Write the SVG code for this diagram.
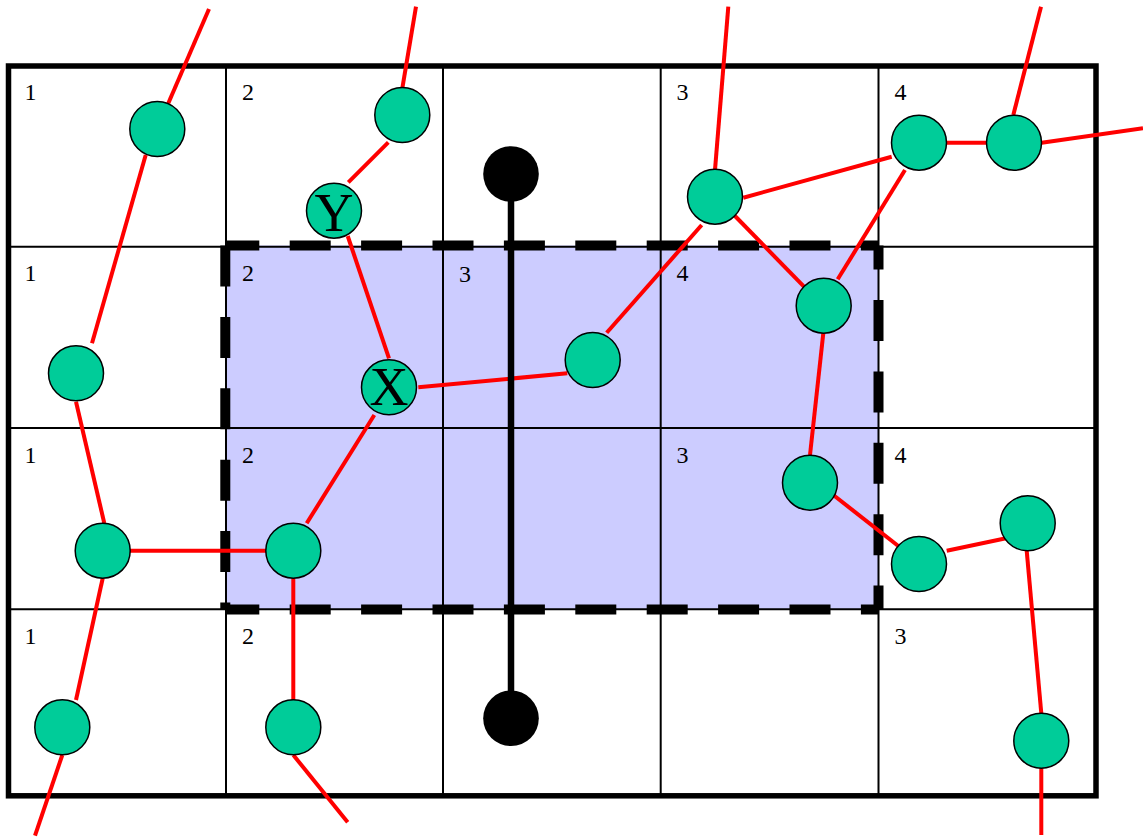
<svg xmlns="http://www.w3.org/2000/svg" width="1143" height="837" viewBox="0 0 1143 837">
<style>
.grid{stroke:#000;stroke-width:2;fill:none}
.dash{stroke:#000;stroke-width:10;stroke-dasharray:41 30.4;fill:none}
.edge{stroke:#FF0000;stroke-width:4;fill:none}
.node circle{fill:#00CC99;stroke:#000;stroke-width:1.5}
.num{font-family:"Liberation Serif","Times New Roman",serif;font-size:24px;fill:#000}
.big{font-family:"Liberation Serif","Times New Roman",serif;font-size:54px;fill:#000;text-anchor:middle}
</style>
<rect x="0" y="0" width="1143" height="837" fill="#FFFFFF"/>
<rect x="225.3" y="245.5" width="653.2" height="364" fill="#CCCCFF"/>
<g id="grid">
<line class="grid" x1="226" y1="66" x2="226" y2="796"/>
<line class="grid" x1="443" y1="66" x2="443" y2="796"/>
<line class="grid" x1="660.7" y1="66" x2="660.7" y2="796"/>
<line class="grid" x1="878.5" y1="66" x2="878.5" y2="796"/>
<line class="grid" x1="8.5" y1="246.7" x2="1096" y2="246.7"/>
<line class="grid" x1="8.5" y1="428" x2="1096" y2="428"/>
<line class="grid" x1="8.5" y1="609.3" x2="1096" y2="609.3"/>
<rect x="8.5" y="66" width="1087.5" height="729.8" fill="none" stroke="#000" stroke-width="5.5"/>
</g>
<g id="region">
<line class="dash" x1="225.3" y1="245.5" x2="878.5" y2="245.5" stroke-dashoffset="7"/>
<line class="dash" x1="225.3" y1="609.5" x2="878.5" y2="609.5" stroke-dashoffset="7"/>
<line class="dash" x1="225.3" y1="245.5" x2="225.3" y2="609.5"/>
<line class="dash" x1="878.5" y1="245.5" x2="878.5" y2="609.5" stroke-dashoffset="16.9"/>
</g>
<g id="labels">
<text class="num" x="24.5" y="100">1</text>
<text class="num" x="242" y="100">2</text>
<text class="num" x="676.5" y="100">3</text>
<text class="num" x="894.5" y="100">4</text>
<text class="num" x="24.5" y="280.5">1</text>
<text class="num" x="242" y="280.5">2</text>
<text class="num" x="459" y="281.5">3</text>
<text class="num" x="676.5" y="280.5">4</text>
<text class="num" x="24.5" y="463">1</text>
<text class="num" x="242" y="463">2</text>
<text class="num" x="676.5" y="463">3</text>
<text class="num" x="894.5" y="463">4</text>
<text class="num" x="24.5" y="644">1</text>
<text class="num" x="242" y="644">2</text>
<text class="num" x="894.5" y="644">3</text>
</g>
<g id="connectors">
<line class="edge" x1="209" y1="9" x2="168.3" y2="103.3"/>
<line class="edge" x1="145.7" y1="155" x2="92" y2="343.3"/>
<line class="edge" x1="76" y1="401.7" x2="104.3" y2="523.3"/>
<line class="edge" x1="130" y1="550.7" x2="266.7" y2="550.7"/>
<line class="edge" x1="102.7" y1="578.3" x2="76" y2="700"/>
<line class="edge" x1="62.3" y1="755" x2="35" y2="835.7"/>
<line class="edge" x1="293.3" y1="578.3" x2="293.3" y2="700"/>
<line class="edge" x1="293.3" y1="755" x2="347.7" y2="822.3"/>
<line class="edge" x1="306.7" y1="523.3" x2="374.3" y2="415"/>
<line class="edge" x1="347.7" y1="236" x2="389" y2="358.3"/>
<line class="edge" x1="348.3" y1="182.3" x2="388.3" y2="142.3"/>
<line class="edge" x1="402.3" y1="88.3" x2="416" y2="6.7"/>
<line class="edge" x1="418.3" y1="387.3" x2="567.3" y2="373.3"/>
<line class="edge" x1="606.7" y1="332.7" x2="701.7" y2="225"/>
<line class="edge" x1="715" y1="170" x2="728.3" y2="6.7"/>
<line class="edge" x1="743.3" y1="197.7" x2="891.7" y2="156.7"/>
<line class="edge" x1="946" y1="142.7" x2="986.7" y2="142.7"/>
<line class="edge" x1="1013.3" y1="115" x2="1041" y2="6.7"/>
<line class="edge" x1="1041.7" y1="142.7" x2="1143" y2="128.3"/>
<line class="edge" x1="735" y1="216" x2="804" y2="286.7"/>
<line class="edge" x1="905" y1="170" x2="837.7" y2="279.3"/>
<line class="edge" x1="823.3" y1="333.3" x2="810" y2="455"/>
<line class="edge" x1="833.3" y1="495" x2="898.3" y2="546"/>
<line class="edge" x1="946.7" y1="550.7" x2="1006" y2="538.3"/>
<line class="edge" x1="1026.7" y1="550.7" x2="1041.3" y2="713.3"/>
<line class="edge" x1="1041.3" y1="768.3" x2="1041.3" y2="835"/>
</g>
<g id="divider">
<line x1="511" y1="174" x2="511" y2="718.3" stroke="#000" stroke-width="6.5"/>
<circle cx="511" cy="174" r="27.8" fill="#000"/>
<circle cx="511" cy="718.3" r="27.8" fill="#000"/>
</g>
<g id="nodeA" class="node"><circle cx="157.3" cy="129" r="27.5"/></g>
<g id="nodeB" class="node"><circle cx="76" cy="373.3" r="27.5"/></g>
<g id="nodeC" class="node"><circle cx="102.7" cy="550.7" r="27.5"/></g>
<g id="nodeD" class="node"><circle cx="293.3" cy="550.7" r="27.5"/></g>
<g id="nodeE" class="node"><circle cx="62.3" cy="727.3" r="27.5"/></g>
<g id="nodeF" class="node"><circle cx="293.3" cy="727.3" r="27.5"/></g>
<g id="nodeX" class="node"><circle cx="389" cy="387.3" r="27.5"/><text class="big" x="389" y="405">X</text></g>
<g id="nodeY" class="node"><circle cx="334" cy="210.7" r="27.5"/><text class="big" x="334" y="231">Y</text></g>
<g id="nodeG" class="node"><circle cx="402.3" cy="115" r="27.5"/></g>
<g id="nodeH" class="node"><circle cx="592.7" cy="360" r="27.5"/></g>
<g id="nodeI" class="node"><circle cx="715" cy="196.7" r="27.5"/></g>
<g id="nodeJ" class="node"><circle cx="919" cy="142.7" r="27.5"/></g>
<g id="nodeK" class="node"><circle cx="1014" cy="142.7" r="27.5"/></g>
<g id="nodeL" class="node"><circle cx="823.7" cy="305.7" r="27.5"/></g>
<g id="nodeM" class="node"><circle cx="810" cy="482.7" r="27.5"/></g>
<g id="nodeN" class="node"><circle cx="919" cy="564" r="27.5"/></g>
<g id="nodeO" class="node"><circle cx="1027.7" cy="523.3" r="27.5"/></g>
<g id="nodeP" class="node"><circle cx="1041.3" cy="740.7" r="27.5"/></g>
</svg>
